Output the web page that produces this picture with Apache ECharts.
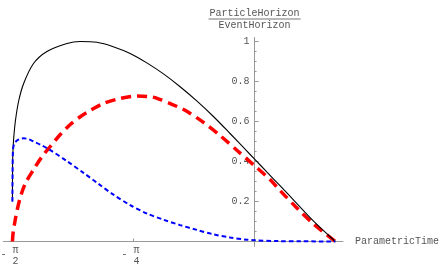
<!DOCTYPE html>
<html>
<head>
<meta charset="utf-8">
<script src="https://cdn.jsdelivr.net/npm/echarts@6/dist/echarts.min.js"></script>
<style>html,body{margin:0;padding:0;background:#fff}#c{width:441px;height:272px}</style>
</head>
<body>
<div id="c"></div>
<script>
// ParametricTime values (radians) and ratios
var blackX = [-1.5708, -1.5697, -1.5671, -1.5632, -1.552, -1.531, -1.498, -1.434, -1.347, -1.217, -1.131, -1.023, -0.917, -0.807, -0.699, -0.591, -0.483, -0.375, -0.267, -0.159, -0.051, 0, 0.079, 0.165, 0.273, 0.381, 0.5236];
var blackY = [0.20, 0.39, 0.457, 0.51, 0.60, 0.70, 0.79, 0.89, 0.95, 0.99, 1.0, 0.996, 0.974, 0.94, 0.893, 0.838, 0.774, 0.703, 0.625, 0.54, 0.453, 0.412, 0.348, 0.279, 0.191, 0.103, 0];

var redX = [-1.5708, -1.5652, -1.5522, -1.5392, -1.5198, -1.4874, -1.4336, -1.3791, -1.3253, -1.2605, -1.1957, -1.1309, -1.0661, -0.9819, -0.8717, -0.7615, -0.6773, -0.6319, -0.502, -0.437, -0.334, -0.224, -0.113, 0, 0.1, 0.165, 0.273, 0.381, 0.5236];
var redY = [0, 0.05, 0.11, 0.16, 0.22, 0.29, 0.36, 0.424, 0.475, 0.535, 0.585, 0.624, 0.655, 0.69, 0.715, 0.727, 0.724, 0.716, 0.675, 0.65, 0.597, 0.53, 0.455, 0.379, 0.31, 0.255, 0.169, 0.089, 0];

var blueX = [-1.5708, -1.5700, -1.5671, -1.5587, -1.5412, -1.5198, -1.4984, -1.4679, -1.4336, -1.3791, -1.3253, -1.2171, -1.1095, -1.0123, -0.9151, -0.8069, -0.6987, -0.5911, -0.4828, -0.375, -0.267, -0.159, -0.051, 0, 0.15, 0.3, 0.5236];
var blueY = [0.20, 0.33, 0.457, 0.49, 0.505, 0.513, 0.516, 0.512, 0.50, 0.48, 0.457, 0.402, 0.343, 0.288, 0.234, 0.182, 0.140, 0.109, 0.082, 0.058, 0.036, 0.02, 0.009, 0.006, 0.002, 0.001, 0];

var yTickValues = [0.2, 0.4, 0.6, 0.8, 1];
var xTickValues = [-Math.PI / 2, -Math.PI / 4];
var xTickDenoms = ['2', '4'];

var X_MIN = -1.63, X_MAX = 0.5736, Y_MIN = -0.025, Y_MAX = 1.02;

function pairs(xs, ys) { return xs.map(function (x, i) { return [x, ys[i]]; }); }

var FONT = 'Liberation Mono';
var TXT = '#555';
var AX = '#999';

var G = { left: 3.3, top: 37.5, width: 339.7, height: 209 };
// place axes through the origin by offsetting them from the grid edges
var yOffset = -(0 - X_MIN) / (X_MAX - X_MIN) * G.width;
var xOffset = -(0 - Y_MIN) / (Y_MAX - Y_MIN) * G.height;

var chart = echarts.init(document.getElementById('c'), null, { renderer: 'canvas' });
chart.setOption({
  animation: false,
  grid: { left: G.left, top: G.top, width: G.width, height: G.height, outerBoundsMode: 'none', containLabel: false },
  xAxis: {
    type: 'value', min: X_MIN, max: X_MAX, position: 'bottom', offset: xOffset,
    axisLine: { onZero: false, lineStyle: { color: AX, width: 1 } },
    axisTick: { show: true, inside: true, length: 3, lineStyle: { color: AX }, customValues: xTickValues },
    axisLabel: {
      customValues: xTickValues, margin: 6.2,
      formatter: function (v) {
        var i = Math.abs(+v + Math.PI / 2) < 1e-6 ? 0 : 1;
        return '{a|  π }\n{b|-   }\n{c|  ' + xTickDenoms[i] + ' }';
      },
      rich: {
        a: { fontFamily: FONT, fontSize: 10, color: TXT, lineHeight: 6 },
        b: { fontFamily: FONT, fontSize: 10, color: TXT, lineHeight: 1.6 },
        c: { fontFamily: FONT, fontSize: 10, color: TXT, lineHeight: 12.8 }
      }
    },
    splitLine: { show: false },
    name: 'ParametricTime', nameLocation: 'end', nameGap: 12,
    nameTextStyle: { fontFamily: FONT, fontSize: 10, color: TXT, verticalAlign: 'middle' }
  },
  yAxis: {
    type: 'value', min: Y_MIN, max: Y_MAX, position: 'left', offset: yOffset,
    axisLine: { onZero: false, lineStyle: { color: AX, width: 1 } },
    axisTick: { show: true, inside: true, length: 4, lineStyle: { color: AX }, customValues: yTickValues },
    minorTick: { show: true, splitNumber: 4, length: 2, lineStyle: { color: AX } },
    axisLabel: {
      show: true, margin: 5,
      fontFamily: FONT, fontSize: 10, color: TXT,
      formatter: function (v) {
        v = +v;
        if (v <= 0.001 || v > 1.001) return '';
        var r = Math.round(v * 5);
        if (Math.abs(v * 5 - r) > 1e-6) return '';
        return r === 5 ? '1' : (r / 5).toFixed(1);
      }
    },
    splitLine: { show: false },
    name: '{a|ParticleHorizon}\n{bar| }\n{a|EventHorizon}',
    nameLocation: 'end', nameGap: 7.5,
    nameTextStyle: {
      rich: {
        a: { fontFamily: FONT, fontSize: 10, color: TXT, lineHeight: 10, align: 'center' },
        bar: { width: 92, height: 1, lineHeight: 2, fontSize: 1, backgroundColor: '#777', align: 'center' }
      }
    }
  },
  series: [
    {
      type: 'line', data: pairs(redX, redY), showSymbol: false, smooth: 0.3, z: 2,
      lineStyle: { color: '#ff0000', width: 3.5, type: [10, 6], cap: 'butt' }
    },
    {
      type: 'line', data: pairs(blackX, blackY), showSymbol: false, smooth: 0.3, z: 3,
      lineStyle: { color: '#000000', width: 1.1 }
    },
    {
      type: 'line', data: pairs(blueX, blueY), showSymbol: false, smooth: 0.3, z: 4,
      lineStyle: { color: '#0000ff', width: 2, type: [4.5, 3], cap: 'butt' }
    }
  ]
});
</script>
</body>
</html>
